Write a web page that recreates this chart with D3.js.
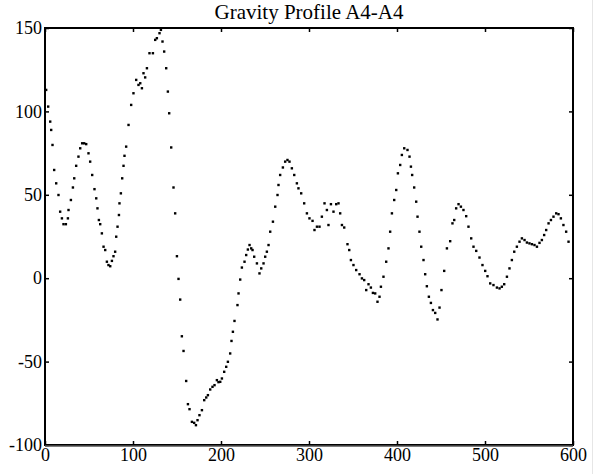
<!DOCTYPE html>
<html><head><meta charset="utf-8">
<script src="https://cdn.jsdelivr.net/npm/d3@7"></script>
<style>html,body{margin:0;padding:0;background:#fff;}svg{display:block;}</style>
</head><body>
<svg id="chart" width="599" height="474"></svg>
<script>
const title = "Gravity Profile A4-A4";
const xTicks = [0, 100, 200, 300, 400, 500, 600];
const yTicks = [-100, -50, 0, 50, 100, 150];
const distance = [1.1,3.4,5.7,6.8,8.3,10.2,12.5,15.1,17.0,19.0,20.8,23.5,25.8,26.5,29.2,31.5,33.0,35.2,37.8,39.8,42.0,44.3,46.6,49.2,51.1,53.4,56.0,58.0,59.4,61.0,62.5,64.4,66.3,68.2,70.1,71.9,73.9,75.8,77.6,79.5,80.7,82.2,83.8,84.4,86.0,87.5,89.0,90.1,92.0,94.7,97.7,100.3,103.4,106.0,108.0,109.9,111.7,113.6,115.6,118.5,122.4,125.0,126.9,129.9,131.5,133.3,135.2,137.5,139.4,140.9,143.2,145.8,147.7,149.7,151.5,153.4,155.3,157.2,160.2,162.2,164.0,166.7,169.3,171.3,173.1,175.3,178.1,180.7,183.0,184.9,187.5,190.1,192.4,195.1,196.9,198.9,200.8,203.4,205.7,207.6,210.2,211.7,213.3,215.1,218.5,219.7,221.6,223.5,226.5,228.4,230.3,232.2,234.1,235.6,237.5,240.6,243.5,245.5,248.1,250.0,251.9,253.8,255.7,258.8,261.4,264.0,265.1,267.0,270.1,272.7,275.3,277.6,280.3,283.0,286.0,287.8,290.9,294.3,297.4,300.3,303.8,306.0,308.8,311.7,314.4,317.4,320.1,321.9,324.7,327.6,330.7,333.3,335.2,337.2,339.8,343.5,345.5,347.4,350.3,353.4,357.2,359.9,362.5,364.8,367.4,370.1,372.4,375.0,377.6,379.9,381.5,384.4,387.5,390.1,392.0,394.0,396.6,398.9,400.8,403.4,405.3,408.0,411.7,414.0,415.6,417.0,419.3,421.6,423.1,425.3,427.3,429.9,431.8,433.7,436.0,438.3,440.6,443.2,445.8,448.1,450.3,453.4,456.5,460.2,462.8,464.8,467.0,469.7,472.4,475.3,478.4,481.0,484.1,486.7,489.8,493.5,496.9,500.0,502.6,505.7,509.4,513.3,516.3,518.9,521.6,524.7,527.6,530.3,533.0,536.0,539.0,541.7,544.7,547.4,550.3,553.1,556.0,558.8,561.7,564.4,567.0,569.3,572.0,574.7,577.6,580.7,583.3,586.0,588.9,592.0,594.7];
const gravity = [113,103,94,89,80,65,57,50,40,36,32.5,32.5,36,41,47,54.5,60,67.5,73,78,81,81,80.5,75,70,62,53.5,48,42,35,32.5,27,19,17,10,8,7.3,10.5,13.3,16,25,31,38,45,51,60,67.5,73.5,79,92,104,111,119,116,117,114,123,120.5,126,135,135,143,144,147,149,142,136,126,112,99,78.5,54.5,39,13.3,-0.3,-12.7,-34.7,-43.5,-61.5,-75.4,-78.4,-86,-86.6,-88,-85,-82,-79,-73,-71.4,-70,-66.6,-65,-64,-61,-62.2,-62,-60,-56,-53,-50,-45,-37.5,-32,-25.5,-16,-9,-0.7,6.5,10,14,17.3,20,18,17,13,9,3,6,9,13,16,20,28,34,43,50,56,62,66.5,70,71,70,66,62,57,54,51,45,39,36,34.5,29,31,31,37,45,41,32,44.5,40,44.5,45,39,32,30.5,20.5,17,11,8,5,2.5,0,-1,-7,-3.5,-5.5,-8.7,-9,-14,-11,-5,1,10,18,28,39,47,53,63,68,74,78,77,73,67,62,54.5,46,37,28,19,11,2.5,-4.7,-11,-14.7,-19,-20.7,-24.6,-17.5,-7,4.5,18,22.3,33,35,42,44.5,43,41,37.3,31,24,19,16.5,12.5,8,4.5,1.3,-3,-4,-5.5,-6,-5,-3.5,1,6,11,16,19,22,24,23,21.5,21,20.5,20,19,21.3,23,26,29,33,35,37,39,38.5,36,32,28,22];

const svg = d3.select("#chart");
const m = {left: 45, right: 573, top: 28, bottom: 445};
const x = d3.scaleLinear().domain([0, 600]).range([m.left, m.right]);
const y = d3.scaleLinear().domain([-100, 150]).range([m.bottom, m.top]);
const font = "'Liberation Serif', 'Times New Roman', serif";
const fmt = d => String(d);

// faint page edge line on right
svg.append("line").attr("x1", 592.5).attr("x2", 592.5).attr("y1", 0).attr("y2", 474)
  .attr("stroke", "#e6e6e6").attr("stroke-width", 1);

// title
svg.append("text").attr("x", (m.left + m.right) / 2).attr("y", 19)
  .attr("text-anchor", "middle").attr("font-family", font).attr("font-size", 21)
  .attr("fill", "#000").text(title);

// axes (ticks inward)
const tl = 4;
const gB = svg.append("g").attr("transform", `translate(0,${m.bottom})`)
  .call(d3.axisBottom(x).tickValues(xTicks).tickSize(-tl).tickPadding(3).tickFormat(fmt));
const gT = svg.append("g").attr("transform", `translate(0,${m.top})`)
  .call(d3.axisTop(x).tickValues(xTicks).tickSize(-tl).tickFormat(""));
const gL = svg.append("g").attr("transform", `translate(${m.left},0)`)
  .call(d3.axisLeft(y).tickValues(yTicks).tickSize(-tl).tickPadding(3).tickFormat(fmt));
const gR = svg.append("g").attr("transform", `translate(${m.right},0)`)
  .call(d3.axisRight(y).tickValues(yTicks).tickSize(-tl).tickFormat(""));
[gB, gT, gL, gR].forEach(g => {
  g.select(".domain").remove();
  g.selectAll(".tick line").attr("stroke", "#000").attr("stroke-width", 1.5);
  g.selectAll(".tick text").attr("font-family", font).attr("font-size", 18).attr("fill", "#000");
});
gB.selectAll(".tick text").attr("dy", "0.71em");

// frame
svg.append("rect").attr("x", m.left).attr("y", m.top)
  .attr("width", m.right - m.left).attr("height", m.bottom - m.top)
  .attr("fill", "none").attr("stroke", "#000").attr("stroke-width", 2);
svg.append("line").attr("x1", m.left).attr("x2", m.right).attr("y1", m.bottom + 1).attr("y2", m.bottom + 1)
  .attr("stroke", "#555").attr("stroke-width", 1.5);

// points
const pts = distance.map((d, i) => ({d, g: gravity[i]}));
svg.append("g").selectAll("rect.pt").data(pts).join("rect")
  .attr("class", "pt")
  .attr("x", p => x(p.d) - 1).attr("y", p => y(p.g) - 1)
  .attr("width", 2.4).attr("height", 2.4).attr("fill", "#000");
</script>
</body></html>
